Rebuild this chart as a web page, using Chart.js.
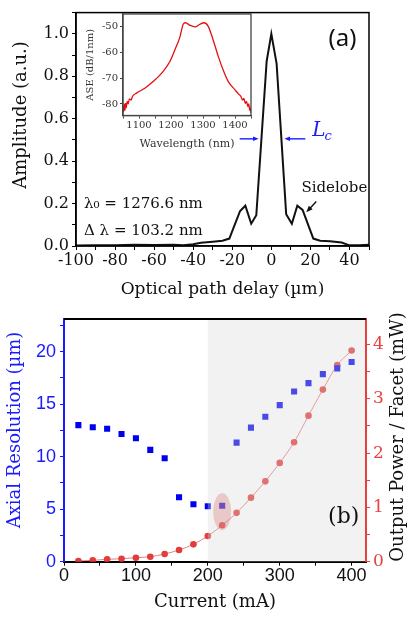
<!DOCTYPE html>
<html>
<head>
<meta charset="utf-8">
<script src="https://cdn.jsdelivr.net/npm/chart.js@4.4.1/dist/chart.umd.min.js"></script>
<style>
  html, body { margin: 0; padding: 0; background: #fff; }
  #wrap { position: relative; width: 410px; height: 621px; overflow: hidden; }
  canvas { position: absolute; }
  #chartA { left: 0; top: 0; }
  #inset { left: 80px; top: 0; }
  #chartB { left: 0; top: 300px; }
</style>
</head>
<body>
<div id="wrap">
  <canvas id="chartA" width="410" height="300"></canvas>
  <canvas id="inset" width="180" height="152"></canvas>
  <canvas id="chartB" width="410" height="321"></canvas>
</div>
<script>
"use strict";

// (a) interferogram: optical path delay (um) vs amplitude (a.u.)
var delays = [-100, -90, -80, -70, -60, -50, -45, -40, -36, -30, -25, -21.5, -16, -13.3, -10.3, -7.7, -2.4, 0, 2.7, 7.6, 10.5, 13.3, 16, 21.5, 25, 30, 36, 40, 45, 50];
var amplitudes = [0.002, 0.003, 0.004, 0.006, 0.005, 0.006, 0.004, 0.008, 0.015, 0.02, 0.025, 0.035, 0.165, 0.19, 0.105, 0.145, 0.87, 1.0, 0.86, 0.15, 0.105, 0.19, 0.17, 0.035, 0.025, 0.022, 0.016, 0.003, 0.003, 0.006];

// inset: ASE spectrum
var wavelengths = [1050, 1052, 1054, 1056, 1058, 1060, 1063, 1066, 1070, 1075, 1080, 1092, 1118, 1144, 1175, 1196, 1212, 1228, 1238, 1245, 1259, 1275, 1290, 1303, 1316, 1332, 1348, 1363, 1379, 1400, 1410, 1418, 1424, 1428, 1432, 1436, 1440, 1443, 1446, 1448, 1450];
var aseLevels = [-81, -83, -80, -82.5, -79.8, -81.5, -79, -80, -78, -78.5, -77, -75.8, -73.9, -71.3, -67.4, -63.6, -59, -53.9, -49, -48.4, -49.4, -50, -49, -48.4, -49.7, -55.2, -61.6, -66.8, -71.3, -74.5, -76, -77, -78.5, -77.8, -79.8, -79, -81, -80, -82.5, -81.5, -83.5];

// (b) axial resolution and output power vs current
var currents = [20, 40, 60, 80, 100, 120, 140, 160, 180, 200, 220, 240, 260, 280, 300, 320, 340, 360, 380, 400];
var axialRes = [13.0, 12.8, 12.65, 12.16, 11.75, 10.64, 9.85, 6.13, 5.47, 5.27, 5.33, 11.33, 12.76, 13.8, 14.9, 16.2, 17.0, 17.85, 18.4, 19.0];
var outputPower = [0.013, 0.025, 0.044, 0.055, 0.074, 0.092, 0.142, 0.216, 0.32, 0.474, 0.67, 0.90, 1.18, 1.48, 1.82, 2.20, 2.69, 3.17, 3.62, 3.89];

var serif = "'DejaVu Serif', serif";
var sans = "'Liberation Sans', Arial, sans-serif";

function xy(xs, ys) {
    return xs.map(function (x, i) { return {x: x, y: ys[i]}; });
}

function rotatedText(ctx, text, x, y, font, color) {
    ctx.save();
    ctx.translate(x, y);
    ctx.rotate(-Math.PI / 2);
    ctx.font = font;
    ctx.fillStyle = color;
    ctx.textAlign = 'center';
    ctx.textBaseline = 'middle';
    ctx.fillText(text, 0, 0);
    ctx.restore();
}

function arrow(ctx, x1, y1, x2, y2, color, head) {
    var a = Math.atan2(y2 - y1, x2 - x1);
    ctx.save();
    ctx.strokeStyle = color;
    ctx.fillStyle = color;
    ctx.lineWidth = 1.4;
    ctx.beginPath();
    ctx.moveTo(x1, y1);
    ctx.lineTo(x2 - Math.cos(a) * head * 0.7, y2 - Math.sin(a) * head * 0.7);
    ctx.stroke();
    ctx.beginPath();
    ctx.moveTo(x2, y2);
    ctx.lineTo(x2 - head * Math.cos(a - 0.38), y2 - head * Math.sin(a - 0.38));
    ctx.lineTo(x2 - head * Math.cos(a + 0.38), y2 - head * Math.sin(a + 0.38));
    ctx.closePath();
    ctx.fill();
    ctx.restore();
}

function every(step) {
    return function (v) {
        var k = v / step;
        return Math.abs(k - Math.round(k)) < 1e-6;
    };
}

// ---------- Chart (a) ----------
var annotateA = {
    id: 'annotateA',
    afterDraw: function (chart) {
        var ctx = chart.ctx, a = chart.chartArea;
        var sx = chart.scales.x, sy = chart.scales.y;
        ctx.save();
        ctx.strokeStyle = '#000';
        ctx.lineWidth = 1.5;
        ctx.strokeRect(a.left, a.top, a.right - a.left, a.bottom - a.top);

        rotatedText(ctx, 'Amplitude (a.u.)', 21, 115, '18px ' + serif, '#111');

        ctx.fillStyle = '#111';
        ctx.textAlign = 'left';
        ctx.textBaseline = 'alphabetic';
        ctx.font = '15px ' + serif;
        ctx.fillText('λ₀ = 1276.6 nm', sx.getPixelForValue(-95.9), sy.getPixelForValue(0.178));
        ctx.fillText('Δ λ = 103.2 nm', sx.getPixelForValue(-95.9), sy.getPixelForValue(0.051));
        ctx.fillText('Sidelobe', sx.getPixelForValue(15.4), sy.getPixelForValue(0.254));
        arrow(ctx, sx.getPixelForValue(23), sy.getPixelForValue(0.21),
            sx.getPixelForValue(17.9), sy.getPixelForValue(0.159), '#111', 7);

        // coherence length marker
        var yl = sy.getPixelForValue(0.505);
        arrow(ctx, sx.getPixelForValue(-16.2), yl, sx.getPixelForValue(-6.5), yl, '#1a1aff', 6);
        arrow(ctx, sx.getPixelForValue(17.4), yl, sx.getPixelForValue(6.7), yl, '#1a1aff', 6);
        ctx.fillStyle = '#1a1aff';
        ctx.font = 'italic 20px ' + serif;
        var lx = sx.getPixelForValue(20.9), ly = sy.getPixelForValue(0.52);
        ctx.fillText('L', lx, ly);
        var lw = ctx.measureText('L').width;
        ctx.font = 'italic 13px ' + serif;
        ctx.fillText('c', lx + lw - 1, ly + 4);

        ctx.fillStyle = '#111';
        ctx.textAlign = 'center';
        ctx.textBaseline = 'middle';
        ctx.font = "24px 'Noto Sans', sans-serif";
        ctx.fillText('(a)', sx.getPixelForValue(36.4), sy.getPixelForValue(0.977));
        ctx.restore();
    }
};

new Chart(document.getElementById('chartA'), {
    type: 'line',
    data: {
        datasets: [{
            data: xy(delays, amplitudes),
            borderColor: '#111',
            borderWidth: 2,
            pointRadius: 0,
            tension: 0
        }]
    },
    options: {
        responsive: false,
        animation: false,
        layout: {padding: {top: 8, right: 41, left: 0, bottom: 0}},
        plugins: {legend: {display: false}, tooltip: {enabled: false}},
        scales: {
            x: {
                type: 'linear', min: -100, max: 50,
                afterFit: function (s) { s.height = 54; },
                border: {color: '#000', width: 1.5},
                grid: {drawOnChartArea: false, color: '#000', tickLength: 4},
                ticks: {
                    stepSize: 10, autoSkip: false, maxRotation: 0, includeBounds: false, padding: 1,
                    color: '#111', font: {family: serif, size: 16},
                    callback: function (v) { return every(20)(v) ? String(v) : ''; }
                },
                title: {display: true, text: 'Optical path delay (µm)', color: '#111',
                    font: {family: serif, size: 17}, padding: {top: 0, bottom: 0}}
            },
            y: {
                min: 0, max: 1.1,
                afterFit: function (s) { s.width = 76; },
                border: {color: '#000', width: 1.5},
                grid: {drawOnChartArea: false, color: '#000', tickLength: 4},
                ticks: {
                    stepSize: 0.1, autoSkip: false, includeBounds: false, padding: 3,
                    color: '#111', font: {family: serif, size: 16},
                    callback: function (v) { return every(0.2)(v) ? v.toFixed(1) : ''; }
                }
            }
        }
    },
    plugins: [annotateA]
});

// ---------- Inset ----------
var insetFrame = {
    id: 'insetFrame',
    beforeDraw: function (chart) {
        var ctx = chart.ctx, a = chart.chartArea;
        ctx.save();
        ctx.fillStyle = '#fff';
        ctx.fillRect(a.left, a.top, a.right - a.left, a.bottom - a.top);
        ctx.restore();
    },
    afterDraw: function (chart) {
        var ctx = chart.ctx, a = chart.chartArea;
        ctx.save();
        ctx.strokeStyle = '#444';
        ctx.lineWidth = 1.3;
        ctx.strokeRect(a.left, a.top, a.right - a.left, a.bottom - a.top);
        ctx.restore();
    }
};

new Chart(document.getElementById('inset'), {
    type: 'line',
    data: {
        datasets: [{
            data: xy(wavelengths, aseLevels),
            borderColor: '#e41010',
            borderWidth: 1.3,
            pointRadius: 0,
            cubicInterpolationMode: 'monotone'
        }]
    },
    options: {
        responsive: false,
        animation: false,
        layout: {padding: {top: 14, right: 9, left: 0, bottom: 0}},
        plugins: {legend: {display: false}, tooltip: {enabled: false}},
        scales: {
            x: {
                type: 'linear', min: 1050, max: 1450,
                afterFit: function (s) { s.height = 36.5; },
                border: {color: '#444', width: 1.3},
                grid: {drawOnChartArea: false, color: '#444', tickLength: 3},
                ticks: {stepSize: 50, includeBounds: false, autoSkip: false, maxRotation: 0, padding: 1,
                    color: '#333', font: {family: serif, size: 10},
                    callback: function (v) { return every(100)(v) ? String(v) : ''; }},
                title: {display: true, text: 'Wavelength (nm)', color: '#333',
                    font: {family: serif, size: 11}, padding: {top: 0, bottom: 1}}
            },
            y: {
                min: -84.5, max: -45,
                afterFit: function (s) { s.width = 43; },
                border: {color: '#444', width: 1.3},
                grid: {drawOnChartArea: false, color: '#444', tickLength: 3},
                ticks: {stepSize: 10, includeBounds: false, padding: 2,
                    color: '#333', font: {family: serif, size: 10}},
                title: {display: true, text: 'ASE (dB/1nm)', color: '#333',
                    font: {family: serif, size: 10}, padding: {top: 4, bottom: 0}}
            }
        }
    },
    plugins: [insetFrame]
});

// ---------- Chart (b) ----------
var annotateB = {
    id: 'annotateB',
    afterDatasetsDraw: function (chart) {
        var ctx = chart.ctx, a = chart.chartArea;
        var sx = chart.scales.x, sp = chart.scales.y1;
        ctx.save();
        // shaded high-current region
        var x200 = sx.getPixelForValue(200);
        ctx.fillStyle = 'rgba(217,217,217,0.34)';
        ctx.fillRect(x200, a.top, a.right - 1 - x200, a.bottom - a.top);
        // highlight ellipse around 220 mA
        var cx = sx.getPixelForValue(220), cy = sp.getPixelForValue(0.92);
        var rx = sx.getPixelForValue(232.5) - cx, ry = cy - sp.getPixelForValue(1.26);
        ctx.beginPath();
        ctx.ellipse(cx, cy, rx, ry, 0, 0, Math.PI * 2);
        ctx.fillStyle = 'rgba(210,90,90,0.28)';
        ctx.fill();
        ctx.restore();
    },
    afterDraw: function (chart) {
        var ctx = chart.ctx, a = chart.chartArea;
        var sx = chart.scales.x, sy = chart.scales.y;
        ctx.save();
        ctx.strokeStyle = '#000';
        ctx.lineWidth = 2;
        ctx.beginPath();
        ctx.moveTo(a.left, a.top);
        ctx.lineTo(a.right, a.top);
        ctx.stroke();

        rotatedText(ctx, 'Axial Resolution (µm)', 15, 130, '18px ' + serif, '#1a1aff');
        rotatedText(ctx, 'Output Power / Facet (mW)', 398, 137, '18px ' + serif, '#111');

        ctx.fillStyle = '#111';
        ctx.textAlign = 'center';
        ctx.textBaseline = 'middle';
        ctx.font = '22px ' + serif;
        ctx.fillText('(b)', sx.getPixelForValue(389), sy.getPixelForValue(4.26));
        ctx.restore();
    }
};

new Chart(document.getElementById('chartB'), {
    type: 'line',
    data: {
        datasets: [{
            label: 'Axial resolution',
            data: xy(currents, axialRes),
            yAxisID: 'y',
            showLine: false,
            pointStyle: 'rect',
            pointRadius: 4.3,
            pointBorderWidth: 0,
            pointBackgroundColor: '#0000ee',
            borderColor: '#0000ee'
        }, {
            label: 'Output power',
            data: xy(currents, outputPower),
            yAxisID: 'y1',
            borderColor: 'rgba(225,95,95,0.8)',
            borderWidth: 1,
            cubicInterpolationMode: 'monotone',
            pointRadius: 3.3,
            pointBorderWidth: 0,
            pointBackgroundColor: '#e23c3c'
        }]
    },
    options: {
        responsive: false,
        animation: false,
        layout: {padding: {top: 19, right: 0, left: 0, bottom: 0}},
        plugins: {legend: {display: false}, tooltip: {enabled: false}},
        scales: {
            x: {
                type: 'linear', min: 0, max: 420,
                afterFit: function (s) { s.height = 59.3; },
                border: {color: '#000', width: 2},
                grid: {drawOnChartArea: false, color: '#000', tickLength: 4},
                ticks: {
                    stepSize: 50, autoSkip: false, maxRotation: 0, includeBounds: false, padding: 0,
                    color: '#111', font: {family: sans, size: 18},
                    callback: function (v) { return every(100)(v) ? String(v) : ''; }
                },
                title: {display: true, text: 'Current (mA)', color: '#111',
                    font: {family: serif, size: 18}, padding: {top: 0, bottom: 8}}
            },
            y: {
                position: 'left', min: 0, max: 23.1,
                afterFit: function (s) { s.width = 64; },
                border: {color: '#1a1aff', width: 2},
                grid: {drawOnChartArea: false, color: '#1a1aff', tickLength: 4},
                ticks: {
                    stepSize: 2.5, autoSkip: false, includeBounds: false, padding: 4,
                    color: '#1a1aff', font: {family: sans, size: 18},
                    callback: function (v) { return every(5)(v) ? String(v) : ''; }
                }
            },
            y1: {
                position: 'right', min: 0, max: 4.47,
                afterFit: function (s) { s.width = 44; },
                border: {color: '#e84040', width: 2},
                grid: {drawOnChartArea: false, color: '#e84040', tickLength: 4},
                ticks: {
                    stepSize: 0.5, autoSkip: false, includeBounds: false, padding: 3,
                    color: '#e84040', font: {family: serif, size: 17},
                    callback: function (v) { return every(1)(v) ? String(v) : ''; }
                }
            }
        }
    },
    plugins: [annotateB]
});
</script>
</body>
</html>
